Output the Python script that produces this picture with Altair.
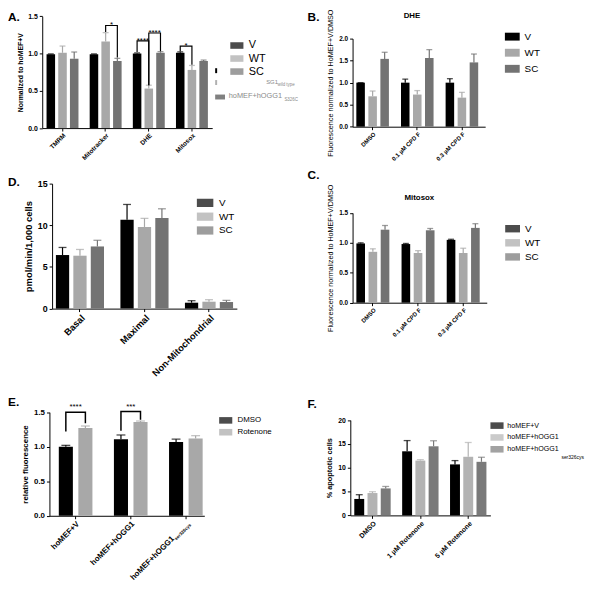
import altair as alt
import pandas as pd

FONT = "Liberation Sans"
RECT = "M-1,-0.5L1,-0.5L1,0.5L-1,0.5Z"
W, H = 592, 589          # drawing canvas (group coordinates = page - 8)

# ---------------- data ----------------
A_cats = ["TMRM", "Mitotracker", "DHE", "Mitosox"]
VWS = ["V", "WT", "SC"]
A_mean_V = [0.99, 0.99, 1.00, 1.01]
A_mean_WT = [1.01, 1.16, 0.53, 0.78]
A_mean_SC = [0.93, 0.90, 1.01, 0.90]
A_sem_V = [0.005, 0.005, 0.008, 0.012]
A_sem_WT = [0.09, 0.12, 0.045, 0.06]
A_sem_SC = [0.09, 0.035, 0.015, 0.012]
A_br_cat = ["Mitotracker", "DHE", "DHE", "Mitosox"]
A_br_left = ["WT", "V", "WT", "V"]
A_br_right = ["SC", "WT", "SC", "WT"]
A_br_lowL = [1.29, 1.02, 0.575, 1.03]
A_br_top = [1.376, 1.17, 1.275, 1.10]
A_br_lowR = [0.945, 0.575, 1.03, 0.85]
A_br_txt = ["*", "****", "****", "*"]

B_cats = ["DMSO", "0.1 µM CPD F", "0.3 µM CPD F"]
B_mean_V = [1.00, 1.00, 1.00]
B_mean_WT = [0.69, 0.73, 0.66]
B_mean_SC = [1.54, 1.56, 1.46]
B_sem_V = [0.0, 0.08, 0.09]
B_sem_WT = [0.12, 0.09, 0.12]
B_sem_SC = [0.15, 0.19, 0.19]

C_mean_V = [0.99, 0.98, 1.05]
C_mean_WT = [0.85, 0.83, 0.83]
C_mean_SC = [1.22, 1.21, 1.25]
C_sem_V = [0.01, 0.01, 0.01]
C_sem_WT = [0.05, 0.04, 0.08]
C_sem_SC = [0.07, 0.03, 0.07]

D_cats = ["Basal", "Maximal", "Non-Mitochondrial"]
D_mean_V = [6.43, 10.67, 0.71]
D_mean_WT = [6.35, 9.80, 0.83]
D_mean_SC = [7.46, 10.87, 0.79]
D_sem_V = [0.91, 1.83, 0.24]
D_sem_WT = [0.75, 1.03, 0.24]
D_sem_SC = [0.74, 1.11, 0.20]

E_cats = ["hoMEF+V", "hoMEF+hOGG1", "hoMEF+hOGG1ser326cys"]
E_groups = ["DMSO", "Rotenone"]
E_mean_DMSO = [1.00, 1.11, 1.07]
E_mean_Rot = [1.27, 1.357, 1.12]
E_sem_DMSO = [0.02, 0.06, 0.04]
E_sem_Rot = [0.03, 0.015, 0.04]
E_br_cat = ["hoMEF+V", "hoMEF+hOGG1"]
E_br_lowL = [1.22, 1.23]
E_br_top = [1.50, 1.51]
E_br_lowR = [1.34, 1.39]
E_br_txt = ["****", "***"]

F_cats = ["DMSO", "1 µM Rotenone", "5 µM Rotenone"]
F_groups = ["hoMEF+V", "hoMEF+hOGG1", "hoMEF+hOGG1ser326cys"]
F_mean_V = [3.45, 13.45, 10.70]
F_mean_WT = [4.69, 11.50, 12.30]
F_mean_SC = [5.66, 14.50, 11.24]
F_sem_V = [0.89, 2.25, 0.80]
F_sem_WT = [0.28, 0.20, 3.00]
F_sem_SC = [0.41, 1.16, 0.96]

COL3 = ["#000000", "#a8a8a8", "#737373"]
COL2 = ["#000000", "#a8a8a8"]
COLF = ["#000000", "#b3b3b3", "#7a7a7a"]


def text_layer(t):
    kw = dict(align=t.get("align", "left"), baseline=t.get("baseline", "top"),
              font=FONT, fontSize=t.get("fs", 12), fontWeight=t.get("fw", "bold"),
              color=t.get("color", "black"))
    return alt.Chart(pd.DataFrame({"t": [t["text"]]})).mark_text(**kw).encode(
        x=alt.value(t["x"]), y=alt.value(t["y"]), text="t:N")


def bar_panel(key, cats, groups, colors, means, sems, p):
    C_, G_ = "cat" + key, "grp" + key
    x0, x1, y0, y1 = p["box"]          # plot area in canvas pixels (left, right, top, bottom)
    rows = []
    for g, mv, sv in zip(groups, means, sems):
        for c, m, s in zip(cats, mv, sv):
            rows.append({C_: c, G_: g, "mean": m, "upper": m + s})
    df = pd.DataFrame(rows)
    xkw = dict(title=None, orient="bottom", offset=y1 - H, labelAngle=-45, labelFont=FONT,
               labelFontSize=p["xfs"], labelFontWeight=p["xfw"], labelColor="black",
               domainColor="black", domainWidth=1, tickColor="black", tickSize=3, tickWidth=1,
               labelPadding=1, grid=False, labelLimit=300)
    if "xexpr" in p:
        xkw["labelExpr"] = p["xexpr"]
    x = alt.X(C_ + ":N", sort=cats,
              scale=alt.Scale(domain=cats, range=[x0, x1], paddingInner=p["xpi"],
                              paddingOuter=p["xpo"], align=p.get("xal", 0.5)),
              axis=alt.Axis(**xkw))
    xo = alt.XOffset(G_ + ":N", sort=groups,
                     scale=alt.Scale(domain=groups, paddingInner=p["opi"], paddingOuter=0))
    yaxis = alt.Axis(title=p["ytitle"], orient="left", offset=-x0, values=p["yticks"],
                     format=p["yfmt"], labelFont=FONT, labelFontSize=p["yfs"],
                     labelFontWeight="bold", labelColor="black", titleFont=FONT,
                     titleFontSize=p["ytfs"], titleFontWeight=p["ytfw"], titleColor="black",
                     titlePadding=p["ytpad"], domainColor="black", domainWidth=1,
                     tickColor="black", tickSize=3, tickWidth=1, labelPadding=2, grid=False)
    ysc = alt.Scale(domain=p["ydom"], range=[y1, y0], nice=False, zero=True)

    def Y(f):
        return alt.Y(f, scale=ysc, axis=yaxis)

    if "mleg" in p:
        legend = None
    else:
        lkw = dict(orient="none", legendX=p["lx"], legendY=p["ly"], title=None,
                   symbolType=RECT, symbolSize=p["lsym"], symbolStrokeWidth=0,
                   labelFont=FONT, labelFontSize=p["lfs"], labelColor="black",
                   labelOffset=p["loff"], rowPadding=p["lrow"], padding=0, labelLimit=300)
        if "lexpr" in p:
            lkw["labelExpr"] = p["lexpr"]
        legend = alt.Legend(**lkw)
    color = alt.Color(G_ + ":N", sort=groups, scale=alt.Scale(domain=groups, range=colors),
                      legend=legend)
    base = alt.Chart(df).encode(x=x, xOffset=xo, color=color)
    layers = [
        base.mark_bar().encode(y=Y("mean:Q")),
        base.mark_rule(strokeWidth=1.2).encode(y=Y("mean:Q"), y2="upper:Q"),
        base.mark_tick(size=p["cap"], thickness=1.3).encode(y=Y("upper:Q")),
    ]
    if "brackets" in p:
        br = []
        st = []
        for i, (c, gl, gr, lo1, top, lo2, txt) in enumerate(p["brackets"]):
            br += [{C_: c, G_: gl, "v": lo1, "bid": i, "o": 0},
                   {C_: c, G_: gl, "v": top, "bid": i, "o": 1},
                   {C_: c, G_: gr, "v": top, "bid": i, "o": 2},
                   {C_: c, G_: gr, "v": lo2, "bid": i, "o": 3}]
            st.append({C_: c, G_: gl, "v": top, "t": txt})
        layers.append(alt.Chart(pd.DataFrame(br)).mark_line(
            color="black", strokeWidth=p.get("bw", 1.2), strokeJoin="miter").encode(
            x=x, xOffset=xo, y=Y("v:Q"), detail="bid:N", order="o:Q"))
        layers.append(alt.Chart(pd.DataFrame(st)).mark_text(
            color="black", font=FONT, fontSize=p.get("sfs", 8), baseline="alphabetic",
            dx=p["sdx"], dy=p.get("sdy", 2)).encode(
            x=x, xOffset=xo, y=Y("v:Q"), text="t:N"))
    if "mleg" in p:
        lx, ly, step, sw, sh, fs, off = p["mleg"]
        for i, (g, col) in enumerate(zip(groups, colors)):
            cy = ly + i * step
            layers.append(alt.Chart(pd.DataFrame({"k": [0]})).mark_rect(color=col).encode(
                x=alt.value(lx), x2=alt.value(lx + sw), y=alt.value(cy - sh / 2),
                y2=alt.value(cy + sh / 2)))
            layers.append(text_layer(dict(text=g, x=lx + sw + off, y=cy, fs=fs, fw="normal",
                                          baseline="middle")))
    for r in p.get("rects", []):
        layers.append(alt.Chart(pd.DataFrame({"k": [0]})).mark_rect(color=r[4]).encode(
            x=alt.value(r[0]), x2=alt.value(r[1]), y=alt.value(r[2]), y2=alt.value(r[3])))
    for t in p.get("texts", []):
        layers.append(text_layer(t))
    # rotated axis label drawn as text (main part + subscript)
    for s in p.get("xlabels", []):
        layers.append(alt.Chart(pd.DataFrame({C_: [s["cat"]], "t": [s["text"]]})).mark_text(
            align="right", baseline="top", angle=315, font=FONT, fontSize=s["fs"],
            fontWeight=s["fw"], color="black", dy=s["dy"], dx=s["dx"]).encode(
            x=x, y=alt.value(y1 + 4), text="t:N"))
    return alt.layer(*layers)


# ---------------- panels (canvas coordinates) ----------------
A = bar_panel("A", A_cats, VWS, COL3, [A_mean_V, A_mean_WT, A_mean_SC], [A_sem_V, A_sem_WT, A_sem_SC], dict(
    box=(34.7, 207, 4.3, 117.7), xpi=0.26, xpo=0.1, opi=0.27, cap=6,
    ydom=[0, 1.5], yticks=[0, 0.5, 1.0, 1.5], yfmt=".1f", ytitle="Normalized to hoMEF+V",
    yfs=7, ytfs=7, ytfw="bold", ytpad=4, xfs=6.5, xfw="bold",
    lx=225, ly=27, lsym=177, lfs=11, loff=5, lrow=1.2,
    brackets=list(zip(A_br_cat, A_br_left, A_br_right, A_br_lowL, A_br_top, A_br_lowR, A_br_txt)),
    sdx=5.9, sfs=8, sdy=2,
    rects=[(210, 212, 57, 62, "#000000"), (210, 212, 69, 74, "#b0b0b0"),
           (210, 220, 83.7, 88.7, "#808080")],
    texts=[dict(text="A.", x=0, y=0, fs=12),
           dict(text="SG1", x=261.7, y=70.8, fs=6, fw="normal", color="#8a8a8a", baseline="middle"),
           dict(text="wild type", x=273.2, y=73.8, fs=4.5, fw="normal", color="#8a8a8a", baseline="middle"),
           dict(text="hoMEF+hOGG1", x=223.7, y=85.3, fs=7.5, fw="normal", color="#8a8a8a", baseline="middle"),
           dict(text="S326C", x=280.2, y=88.8, fs=4.5, fw="normal", color="#8a8a8a", baseline="middle")],
))

B = bar_panel("B", B_cats, VWS, COL3, [B_mean_V, B_mean_WT, B_mean_SC], [B_sem_V, B_sem_WT, B_sem_SC], dict(
    box=(349.3, 483.7, 27, 116.3), xpi=0.27, xpo=0.12, xal=0.35, opi=0.29, cap=6,
    ydom=[0, 2.0], yticks=[0, 0.5, 1.0, 1.5, 2.0], yfmt=".1f",
    ytitle="Fluorescence normalized to HoMEF+V/DMSO",
    yfs=6.5, ytfs=7.3, ytfw="normal", ytpad=4, xfs=6, xfw="bold",
    mleg=(503.7, 25, 16.3, 15, 8, 10, 5),
    texts=[dict(text="B.", x=303.7, y=0, fs=12),
           dict(text="DHE", x=409.5, y=4.5, fs=8, align="center", baseline="middle")],
))

C = bar_panel("C", B_cats, VWS, COL3, [C_mean_V, C_mean_WT, C_mean_SC], [C_sem_V, C_sem_WT, C_sem_SC], dict(
    box=(349.3, 485.3, 203.7, 294.7), xpi=0.27, xpo=0.12, xal=0.35, opi=0.29, cap=6,
    ydom=[0, 1.5], yticks=[0, 0.5, 1.0, 1.5], yfmt=".1f",
    ytitle="Fluorescence normalized to HoMEF+V/DMSO",
    yfs=6.5, ytfs=7.3, ytfw="normal", ytpad=4, xfs=6, xfw="bold",
    lx=504, ly=212.2, lsym=225, lfs=10, loff=5, lrow=1.3,
    texts=[dict(text="C.", x=303.7, y=160.5, fs=12),
           dict(text="Mitosox", x=417, y=189, fs=8, align="center", baseline="middle")],
))

D = bar_panel("D", D_cats, VWS, COL3, [D_mean_V, D_mean_WT, D_mean_SC], [D_sem_V, D_sem_WT, D_sem_SC], dict(
    box=(44.7, 232, 174, 300.7), xpi=0.254, xpo=0.059, opi=0.24, cap=8,
    ydom=[0, 15], yticks=[0, 5, 10, 15], yfmt="d", ytitle="pmol/min/1,000 cells",
    yfs=9, ytfs=9.5, ytfw="bold", ytpad=4, xfs=9.5, xfw="bold",
    lx=191.3, ly=185, lsym=279, lfs=10, loff=5.5, lrow=0,
    texts=[dict(text="D.", x=0, y=167.2, fs=12)],
))

E = bar_panel("E", E_cats, E_groups, COL2, [E_mean_DMSO, E_mean_Rot], [E_sem_DMSO, E_sem_Rot], dict(
    box=(42, 199, 405.7, 510.7), xpi=0.39, xpo=0.1, xal=0.85, opi=0.28, cap=9,
    ydom=[0, 1.5], yticks=[0, 0.5, 1.0, 1.5], yfmt=".1f", ytitle="relative fluorescence",
    yfs=8, ytfs=8, ytfw="bold", ytpad=4, xfs=8, xfw="bold",
    xexpr="datum.value == 'hoMEF+hOGG1ser326cys' ? '' : datum.value",
    lx=213.7, ly=407, lsym=177, lfs=8, loff=5, lrow=1,
    brackets=list(zip(E_br_cat, ["DMSO", "DMSO"], ["Rotenone", "Rotenone"], E_br_lowL, E_br_top,
                      E_br_lowR, E_br_txt)),
    sdx=9.9, sfs=8, sdy=-3, bw=1.5,
    xlabels=[dict(cat="hoMEF+hOGG1ser326cys", text="hoMEF+hOGG1", fs=8, fw="bold", dx=-22, dy=0),
             dict(cat="hoMEF+hOGG1ser326cys", text="ser326cys", fs=4.5, fw="bold", dx=0, dy=4)],
    texts=[dict(text="E.", x=0, y=390.5, fs=12)],
))

F = bar_panel("F", F_cats, F_groups, COLF, [F_mean_V, F_mean_WT, F_mean_SC], [F_sem_V, F_sem_WT, F_sem_SC], dict(
    box=(347, 489, 413.7, 510.3), xpi=0.24, xpo=0.083, opi=0.25, cap=7,
    ydom=[0, 20], yticks=[0, 5, 10, 15, 20], yfmt="d", ytitle="% apoptotic cells",
    yfs=7, ytfs=7.5, ytfw="bold", ytpad=4, xfs=7, xfw="bold",
    lexpr="datum.label == 'hoMEF+hOGG1ser326cys' ? 'hoMEF+hOGG1' : datum.label",
    lx=488.7, ly=412.3, lsym=177, lfs=7.2, loff=3.5, lrow=1,
    texts=[dict(text="F.", x=303.7, y=392.2, fs=12),
           dict(text="ser326cys", x=561, y=451.5, fs=5, fw="normal", baseline="middle")],
))

chart = alt.layer(A, B, C, D, E, F).resolve_scale(
    x="independent", y="independent", xOffset="independent", color="independent"
).resolve_axis(x="independent", y="independent").resolve_legend(color="independent").properties(
    width=W, height=H, autosize=alt.AutoSizeParams(type="none"), padding=0, background="white"
).configure_view(stroke=None)

chart.save("out.html", embed_options={"renderer": "svg", "actions": False})
